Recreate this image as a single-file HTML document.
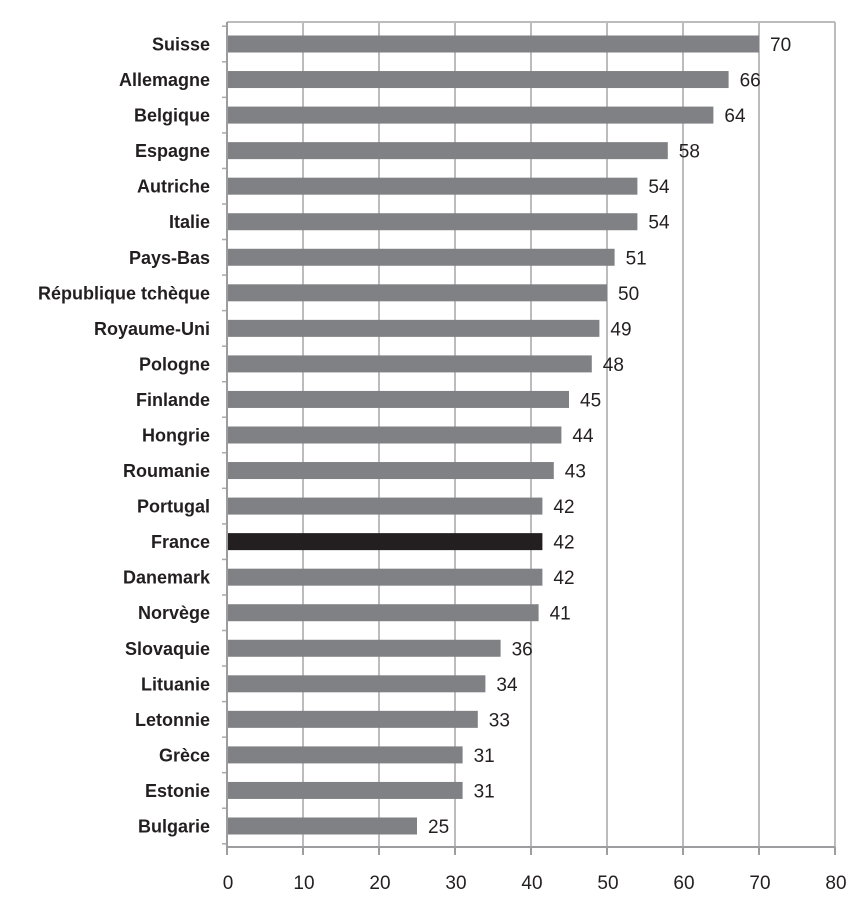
<!DOCTYPE html>
<html><head><meta charset="utf-8"><style>body{margin:0;background:#fff}svg{display:block}</style></head>
<body>
<svg id="c" width="862" height="924" xmlns="http://www.w3.org/2000/svg" font-family="Liberation Sans, sans-serif"></svg>
<script>
(function(){
var d=[["Suisse",70],["Allemagne",66],["Belgique",64],["Espagne",58],["Autriche",54],["Italie",54],["Pays-Bas",51],["République tchèque",50],["Royaume-Uni",49],["Pologne",48],["Finlande",45],["Hongrie",44],["Roumanie",43],["Portugal",42],["France",42],["Danemark",42],["Norvège",41],["Slovaquie",36],["Lituanie",34],["Letonnie",33],["Grèce",31],["Estonie",31],["Bulgarie",25]];
var X0=227,K=7.6,T=22,B=847;
var s='';
for(var i=1;i<=8;i++){var x=X0+i*K*10;s+='<line x1="'+x+'" y1="'+T+'" x2="'+x+'" y2="'+B+'" stroke="#bcbcbe" stroke-width="2"/>';}
s+='<line x1="'+X0+'" y1="'+T+'" x2="835" y2="'+T+'" stroke="#bcbcbe" stroke-width="2"/>';
d.forEach(function(r,i){var cy=44+i*35.545;var w=(r[1]==42?41.5:r[1])*K;
s+='<rect x="'+X0+'" y="'+(cy-8.5)+'" width="'+w+'" height="17" fill="'+(r[0]=='France'?'#231f20':'#808184')+'"/>';
s+='<text x="210" y="'+(cy+6.5)+'" text-anchor="end" font-size="18" font-weight="bold" fill="#231f20">'+r[0]+'</text>';
s+='<text x="'+(X0+w+11)+'" y="'+(cy+7)+'" font-size="19" fill="#231f20">'+r[1]+'</text>';
s+='<line x1="'+(X0-5)+'" y1="'+(cy+17.8)+'" x2="'+X0+'" y2="'+(cy+17.8)+'" stroke="#aaa" stroke-width="1.5"/>';});
s+='<line x1="'+(X0-5)+'" y1="'+(44-17.8)+'" x2="'+X0+'" y2="'+(44-17.8)+'" stroke="#aaa" stroke-width="1.5"/>';
s+='<line x1="'+X0+'" y1="'+T+'" x2="'+X0+'" y2="855" stroke="#9d9d9f" stroke-width="2"/>';
s+='<line x1="'+X0+'" y1="'+B+'" x2="835" y2="'+B+'" stroke="#9d9d9f" stroke-width="2"/>';
for(var j=0;j<=8;j++){var xx=X0+j*K*10;s+='<line x1="'+xx+'" y1="'+B+'" x2="'+xx+'" y2="855" stroke="#9d9d9f" stroke-width="2"/>';
s+='<text x="'+(xx+1)+'" y="889" text-anchor="middle" font-size="19" fill="#231f20">'+(j*10)+'</text>';}
document.getElementById('c').innerHTML=s;
})();
</script>
</body></html>
